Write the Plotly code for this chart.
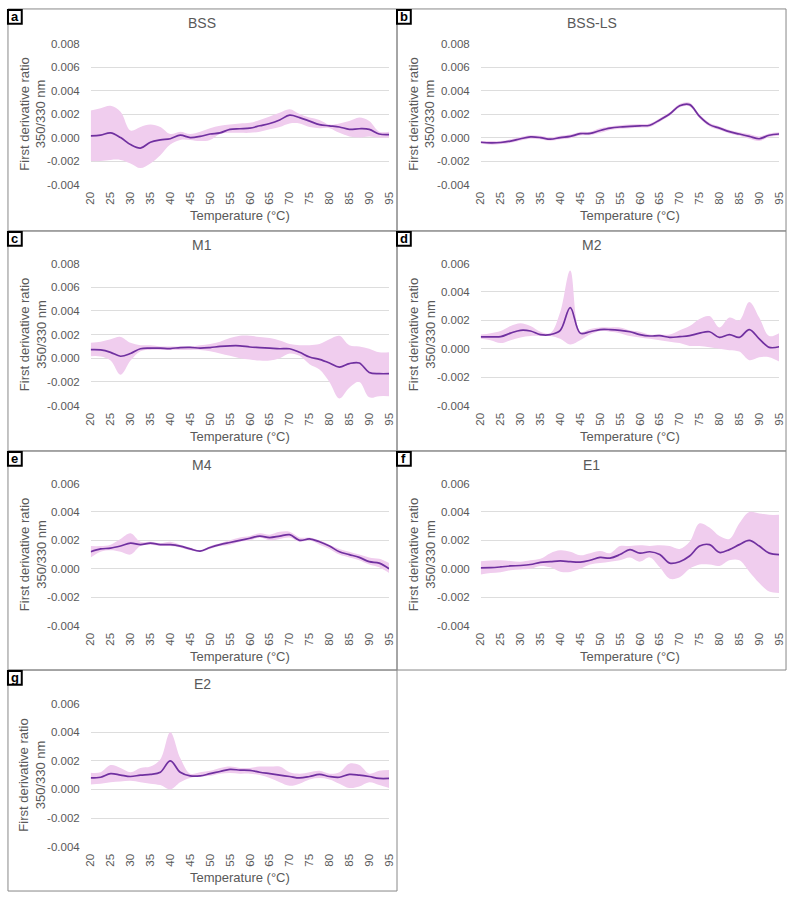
import plotly.graph_objects as go

W, H = 794, 899

# ---------------- data ----------------
temps = [20, 22.5, 25, 27.5, 30, 32.5, 35, 37.5, 40, 42.5, 45, 47.5, 50, 52.5, 55, 57.5,
         60, 62.5, 65, 67.5, 70, 72.5, 75, 77.5, 80, 82.5, 85, 87.5, 90, 92.5, 95]
x_ticks = [20, 25, 30, 35, 40, 45, 50, 55, 60, 65, 70, 75, 80, 85, 90, 95]

bss_mean = [0.00014, 0.0002, 0.0004, 0.0, -0.0006, -0.0009, -0.0004, -0.0002, -0.0001, 0.0002, 0.0,
            0.0001, 0.0003, 0.0004, 0.0007, 0.00075, 0.0008, 0.001, 0.0012, 0.0015, 0.0019, 0.0017,
            0.0014, 0.0011, 0.001, 0.0009, 0.0007, 0.00075, 0.0007, 0.0003, 0.00025]
bss_hi = [0.0023, 0.0025, 0.0027, 0.0022, 0.0006, 0.0009, 0.0011, 0.0009, 0.0003, 0.0005, 0.0003,
          0.0005, 0.0008, 0.001, 0.0011, 0.0012, 0.00125, 0.0015, 0.0018, 0.0021, 0.0024, 0.002,
          0.0017, 0.0015, 0.0011, 0.0012, 0.0014, 0.0017, 0.0014, 0.0005, 0.0005]
bss_lo = [-0.002, -0.002, -0.0019, -0.0019, -0.0022, -0.0026, -0.0022, -0.0015, -0.0006, -0.0002, -0.0002,
          -0.0003, -0.0002, 0.0003, 0.0004, 0.0004, 0.0004, 0.0005, 0.0007, 0.0009, 0.0012, 0.0012,
          0.0009, 0.0008, 0.0008, 0.0004, 0.0001, 0.0, 0.0001, 0.0, 0.0]

bssls_mean = [-0.0004, -0.00045, -0.00042, -0.0003, -0.0001, 0.00005, 0.0, -0.00014, 0.0, 0.0001, 0.00033,
              0.00035, 0.0006, 0.0008, 0.0009, 0.00095, 0.001, 0.00105, 0.0015, 0.002, 0.0027, 0.0028,
              0.0018, 0.0011, 0.0008, 0.0005, 0.0003, 0.0001, -0.0001, 0.0002, 0.0003]
bssls_hi = [-0.0003, -0.0003, -0.0003, -0.00015, 0.00005, 0.0002, 0.00015, 0.0, 0.00015, 0.00025, 0.00048,
            0.0005, 0.0008, 0.00095, 0.00105, 0.0011, 0.00115, 0.0012, 0.00165, 0.00215, 0.00285, 0.00295,
            0.00195, 0.00125, 0.00095, 0.00065, 0.00045, 0.0003, 0.0001, 0.00035, 0.00045]
bssls_lo = [-0.0005, -0.0006, -0.00055, -0.00045, -0.00025, -0.0001, -0.00015, -0.00028, -0.00015, -0.00005, 0.00018,
            0.0002, 0.0004, 0.00065, 0.00075, 0.0008, 0.00085, 0.0009, 0.00135, 0.00185, 0.00255, 0.00265,
            0.00165, 0.00095, 0.00065, 0.00035, 0.00015, -0.0001, -0.0003, 0.00005, 0.00015]

m1_mean = [0.00072, 0.0007, 0.0005, 0.00017, 0.0004, 0.0008, 0.00085, 0.00085, 0.00082, 0.0009, 0.00092,
           0.00085, 0.0009, 0.001, 0.00105, 0.00105, 0.00095, 0.0009, 0.00085, 0.0008, 0.0008, 0.0005,
           0.0001, -0.0001, -0.0004, -0.00075, -0.00045, -0.0004, -0.0012, -0.0013, -0.0013]
m1_hi = [0.0013, 0.0014, 0.0016, 0.0018, 0.0013, 0.0011, 0.0011, 0.001, 0.001, 0.001, 0.001,
         0.0011, 0.0012, 0.0014, 0.0017, 0.0019, 0.0019, 0.0018, 0.0017, 0.0015, 0.0012, 0.0011,
         0.0011, 0.0012, 0.0016, 0.0019, 0.0011, 0.001, 0.0008, 0.0005, 0.0005]
m1_lo = [0.00017, 0.00015, -0.0002, -0.0014, -0.0002, 0.0006, 0.0007, 0.0007, 0.0007, 0.0007, 0.0007,
         0.0007, 0.0006, 0.0004, 0.0002, 0.0, -0.0001, -0.0002, -0.0002, 0.0, 0.0004, 0.0002,
         -0.0005, -0.00095, -0.002, -0.0034, -0.0025, -0.002, -0.0033, -0.0032, -0.0032]

m2_mean = [0.00084, 0.00084, 0.00085, 0.0011, 0.0013, 0.00125, 0.001, 0.001, 0.0013, 0.0029, 0.0011,
           0.0012, 0.00135, 0.00135, 0.0013, 0.0012, 0.001, 0.0009, 0.00092, 0.0008, 0.00085, 0.00092,
           0.0011, 0.0012, 0.0008, 0.001, 0.0008, 0.00135, 0.0007, 0.0001, 0.00014]
m2_hi = [0.001, 0.0011, 0.00125, 0.0016, 0.0018, 0.0016, 0.0012, 0.0011, 0.0026, 0.0055, 0.0012,
         0.0014, 0.0015, 0.0015, 0.0015, 0.0013, 0.0012, 0.001, 0.001, 0.001, 0.0013, 0.0016,
         0.0021, 0.0023, 0.0015, 0.0022, 0.002, 0.0033, 0.0022, 0.0009, 0.0011]
m2_lo = [0.0007, 0.0006, 0.0004, 0.0006, 0.0008, 0.0009, 0.0009, 0.0009, 0.0007, 0.0003, 0.0006,
         0.001, 0.00125, 0.0012, 0.0011, 0.0009, 0.0008, 0.0007, 0.0006, 0.0005, 0.0004, 0.0002,
         0.0002, 0.0001, 0.0, -0.0001, -0.0002, -0.0008, -0.0006, -0.0006, -0.0009]

m4_mean = [0.0012, 0.0014, 0.00145, 0.0016, 0.0018, 0.0017, 0.0018, 0.0017, 0.0017, 0.0016, 0.0014,
           0.00125, 0.0015, 0.0017, 0.00185, 0.002, 0.00215, 0.0023, 0.0022, 0.0023, 0.0024, 0.002,
           0.0021, 0.0019, 0.0016, 0.0012, 0.001, 0.0008, 0.0005, 0.0004, 0.0]
m4_hi = [0.0016, 0.0016, 0.0017, 0.0021, 0.0025, 0.0019, 0.0019, 0.0018, 0.0019, 0.0017, 0.0015,
         0.0013, 0.0016, 0.0018, 0.002, 0.0022, 0.0023, 0.0025, 0.0024, 0.0026, 0.0026, 0.0022,
         0.0022, 0.002, 0.0017, 0.0014, 0.0012, 0.001, 0.0008, 0.0007, 0.0004]
m4_lo = [0.0008, 0.0012, 0.0013, 0.0012, 0.001, 0.0016, 0.0017, 0.0016, 0.0016, 0.0015, 0.0013,
         0.0012, 0.0014, 0.0016, 0.0017, 0.0019, 0.002, 0.0022, 0.002, 0.0021, 0.0022, 0.0019,
         0.002, 0.0017, 0.0014, 0.001, 0.0008, 0.0006, 0.0003, 0.0001, -0.0003]

e1_mean = [0.00007, 0.00008, 0.00013, 0.0002, 0.00023, 0.0003, 0.00045, 0.0005, 0.00056, 0.0005, 0.00047,
           0.0006, 0.0008, 0.00075, 0.001, 0.00135, 0.0011, 0.0012, 0.001, 0.0004, 0.0005, 0.0009,
           0.0016, 0.0017, 0.00115, 0.00135, 0.0017, 0.002, 0.0016, 0.0011, 0.001]
e1_hi = [0.00053, 0.00058, 0.0006, 0.00055, 0.0005, 0.0006, 0.0007, 0.0011, 0.0013, 0.0012, 0.00095,
         0.0011, 0.00125, 0.0011, 0.0016, 0.0016, 0.00165, 0.0016, 0.00165, 0.0016, 0.0014, 0.0019,
         0.0032, 0.0029, 0.0023, 0.0021, 0.0032, 0.004, 0.0039, 0.0038, 0.0038]
e1_lo = [-0.0004, -0.0003, -0.00025, -0.0001, -0.00005, 0.0, 0.0002, 0.0001, -0.0002, -0.00022, 0.0,
         0.0003, 0.0004, 0.0005, 0.0006, 0.0008, 0.0005, 0.0008, 0.0001, -0.0007, -0.0006, 0.0,
         0.0003, 0.0003, 0.0002, 0.0006, 0.0006, -0.0002, -0.001, -0.0016, -0.0017]

e2_mean = [0.0008, 0.00085, 0.0011, 0.001, 0.0009, 0.001, 0.00105, 0.0012, 0.002, 0.0012, 0.00095,
           0.00095, 0.0011, 0.00125, 0.0014, 0.00135, 0.00133, 0.0012, 0.0011, 0.001, 0.0009, 0.0008,
           0.0009, 0.00105, 0.0009, 0.00085, 0.00105, 0.001, 0.0009, 0.00077, 0.00077]
e2_hi = [0.00116, 0.0012, 0.0017, 0.0015, 0.0012, 0.0015, 0.0016, 0.0021, 0.004, 0.0022, 0.0011,
         0.0012, 0.0013, 0.0015, 0.0016, 0.0015, 0.0015, 0.0016, 0.0016, 0.0016, 0.0012, 0.0011,
         0.0012, 0.0013, 0.0011, 0.0012, 0.0018, 0.0017, 0.0011, 0.0013, 0.00135]
e2_lo = [0.00035, 0.0004, 0.0005, 0.00055, 0.0006, 0.0005, 0.0004, 0.0003, 0.0, 0.0005, 0.0008,
         0.0009, 0.00095, 0.0011, 0.00115, 0.0011, 0.0011, 0.001, 0.0008, 0.0005, 0.00025, 0.0004,
         0.0007, 0.0008, 0.0007, 0.0004, 0.0001, 0.0002, 0.0005, 0.0003, 0.0001]

names = ["BSS", "BSS-LS", "M1", "M2", "M4", "E1", "E2"]
letters = ["a", "b", "c", "d", "e", "f", "g"]
means = [bss_mean, bssls_mean, m1_mean, m2_mean, m4_mean, e1_mean, e2_mean]
his = [bss_hi, bssls_hi, m1_hi, m2_hi, m4_hi, e1_hi, e2_hi]
los = [bss_lo, bssls_lo, m1_lo, m2_lo, m4_lo, e1_lo, e2_lo]
y_ticks_wide = [-0.004, -0.002, 0.0, 0.002, 0.004, 0.006, 0.008]
y_ticks_narrow = [-0.004, -0.002, 0.0, 0.002, 0.004, 0.006]
yticks = [y_ticks_wide, y_ticks_wide, y_ticks_wide, y_ticks_narrow,
          y_ticks_narrow, y_ticks_narrow, y_ticks_narrow]

# ---------------- layout geometry (pixels) ----------------
col_box = [(2, 397), (397, 792)]
row_box = [(3, 228), (228, 451), (451, 673), (673, 897)]
col_plot = [(86, 389), (482, 785)]
row_plot = [(38, 181), (261, 405), (484, 628), (707, 852)]

LINE = "#7030A0"
BAND = "#F0CDEE"
TXT = "#595959"
FONT = "Liberation Sans, Arial, sans-serif"


def px(x):
    return x / W


def py(y):
    return 1 - y / H


fig = go.Figure()
shapes = []
annotations = []
layout_axes = {}

for i in range(7):
    r, c = divmod(i, 2)
    k = i + 1
    xa = "x" if k == 1 else f"x{k}"
    ya = "y" if k == 1 else f"y{k}"

    fig.add_trace(go.Scatter(x=temps, y=his[i], mode="lines", line=dict(width=0, shape="spline", color=BAND),
                             xaxis=xa, yaxis=ya, showlegend=False, hoverinfo="skip"))
    fig.add_trace(go.Scatter(x=temps, y=los[i], mode="lines", line=dict(width=0, shape="spline", color=BAND),
                             fill="tonexty", fillcolor=BAND, xaxis=xa, yaxis=ya, showlegend=False,
                             hoverinfo="skip"))
    fig.add_trace(go.Scatter(x=temps, y=means[i], mode="lines", line=dict(width=1.7, shape="spline", color=LINE),
                             xaxis=xa, yaxis=ya, showlegend=False))

    x0, x1 = col_plot[c]
    y0, y1 = row_plot[r]
    yt = yticks[i]
    layout_axes["xaxis" if k == 1 else f"xaxis{k}"] = dict(
        domain=[px(x0), px(x1)], anchor=ya, range=[20, 95], tickvals=x_ticks,
        ticktext=[str(t) for t in x_ticks], tickangle=-90, showgrid=False, zeroline=False,
        showline=False, ticks="", ticklabelstandoff=4,
        tickfont=dict(size=11.5, color=TXT, family=FONT), fixedrange=True)
    layout_axes["yaxis" if k == 1 else f"yaxis{k}"] = dict(
        domain=[py(y1), py(y0)], anchor=xa, range=[yt[0], yt[-1]], tickvals=yt,
        ticktext=[f"{v:.3f}" for v in yt], showgrid=True, gridcolor="#DDDDDD", gridwidth=1,
        zeroline=False, showline=False, ticks="", ticklabelstandoff=10,
        tickfont=dict(size=11.5, color=TXT, family=FONT), fixedrange=True)

    bx0, bx1 = col_box[c]
    by0, by1 = row_box[r]
    shapes.append(dict(type="rect", xref="paper", yref="paper", x0=px(bx0), x1=px(bx1),
                       y0=py(by1), y1=py(by0), line=dict(color="#888888", width=1), layer="below"))
    # panel letter box
    shapes.append(dict(type="rect", xref="paper", yref="paper", x0=px(bx0), x1=px(bx0 + 14),
                       y0=py(by0 + 15), y1=py(by0 + 1), fillcolor="white", line=dict(color="black", width=2)))
    annotations.append(dict(text=f"<b>{letters[i]}</b>", x=px(bx0 + 7), y=py(by0 + 8), xref="paper",
                            yref="paper", showarrow=False, xanchor="center", yanchor="middle",
                            font=dict(size=13, color="black", family=FONT)))
    # title
    annotations.append(dict(text=names[i], x=px((bx0 + bx1) / 2), y=py(by0 + 14), xref="paper",
                            yref="paper", showarrow=False, xanchor="center", yanchor="middle",
                            font=dict(size=14, color=TXT, family=FONT)))
    # x title
    annotations.append(dict(text="Temperature (°C)", x=px((x0 + x1) / 2), y=py(y1 + 31), xref="paper",
                            yref="paper", showarrow=False, xanchor="center", yanchor="middle",
                            font=dict(size=13, color=TXT, family=FONT)))
    # y title
    annotations.append(dict(text="First derivative ratio<br>350/330 nm", x=px(bx0 + 25), y=py((y0 + y1) / 2),
                            xref="paper", yref="paper", showarrow=False, xanchor="center", yanchor="middle",
                            textangle=-90, font=dict(size=13, color=TXT, family=FONT)))

fig.update_layout(width=W, height=H, margin=dict(l=0, r=0, t=0, b=0), paper_bgcolor="white",
                  plot_bgcolor="white", shapes=shapes, annotations=annotations, **layout_axes)

fig.write_html("out.html", config={"displayModeBar": False},
               post_script="document.body.style.margin='0';document.body.style.overflow='hidden';")
